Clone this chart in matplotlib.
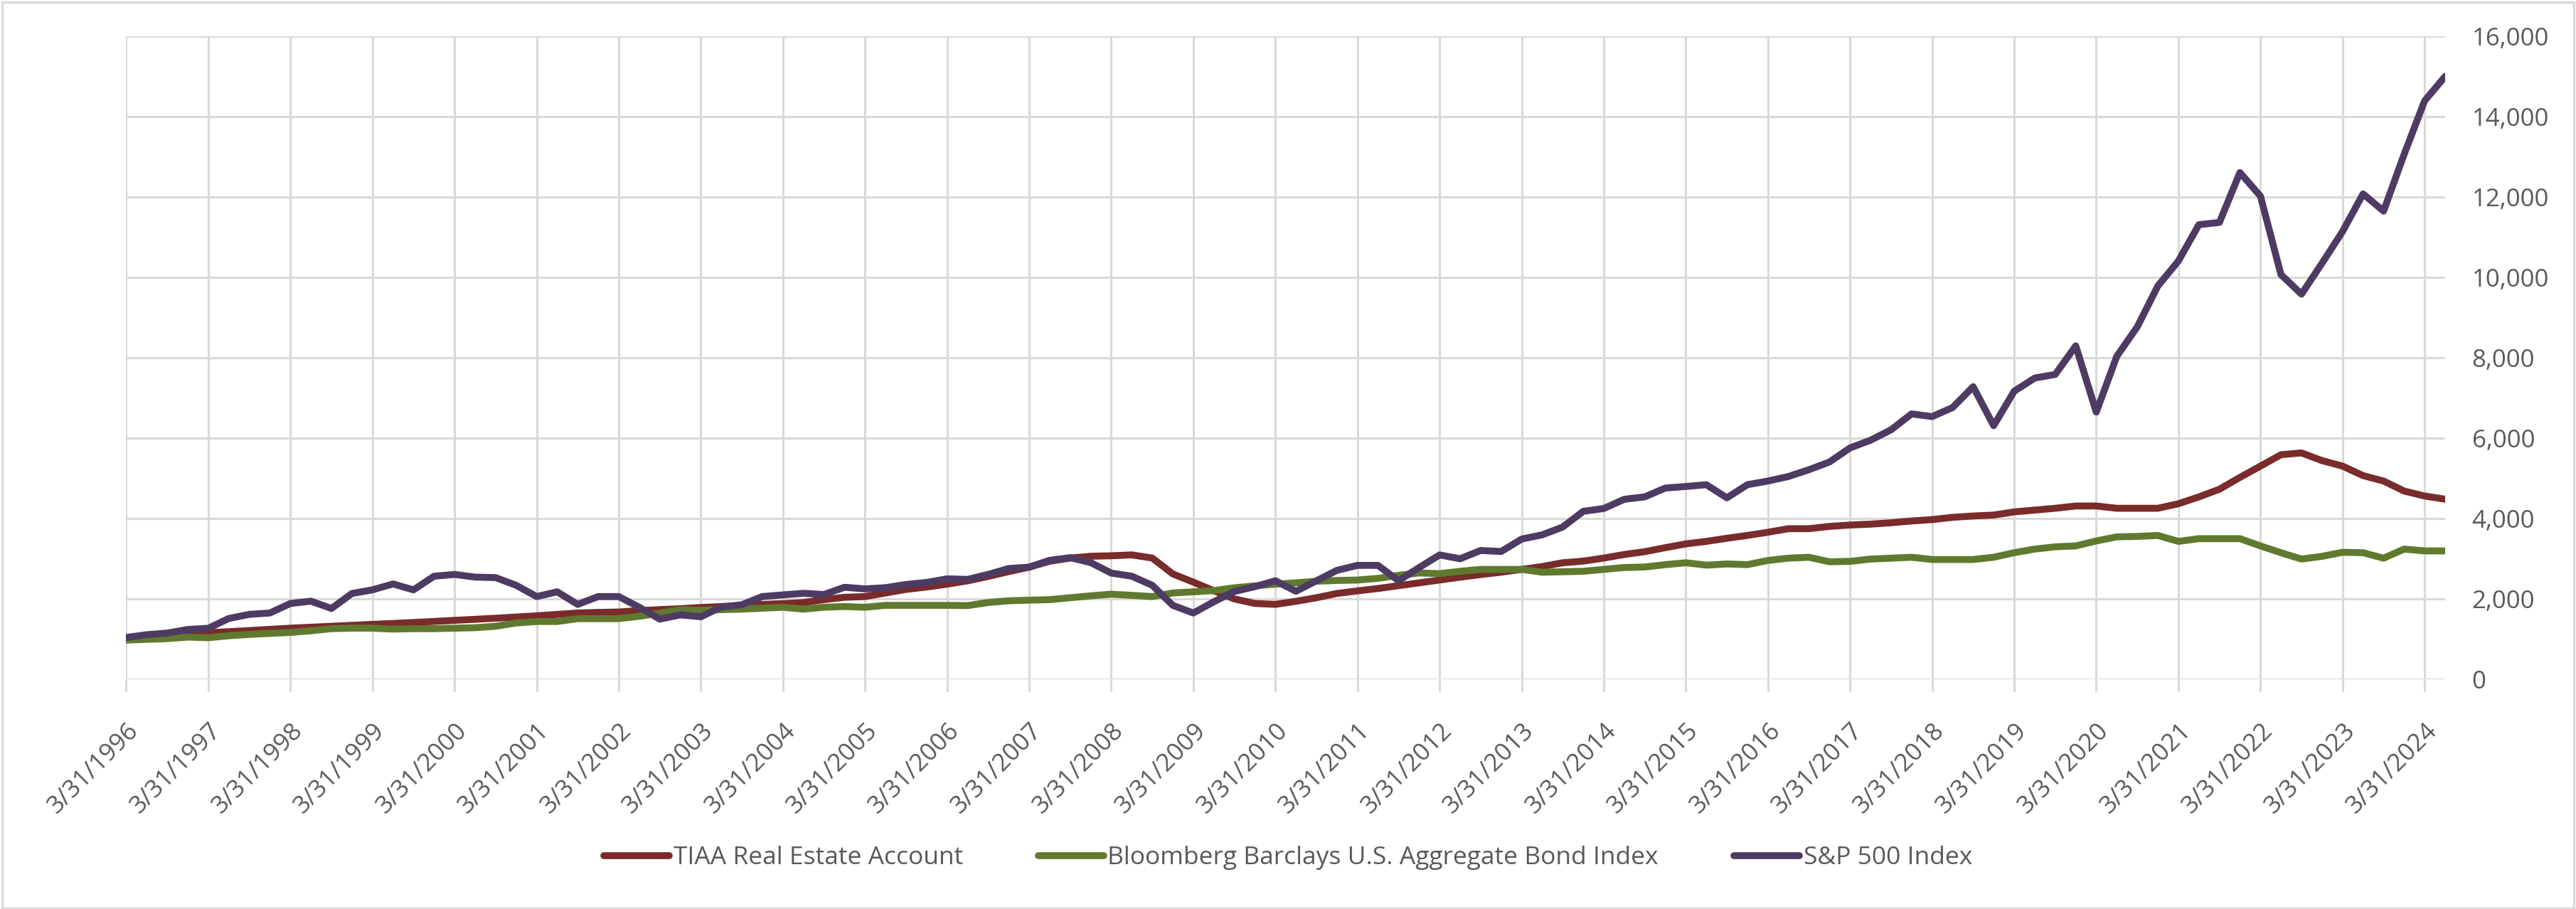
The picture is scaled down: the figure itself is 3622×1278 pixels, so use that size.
import pandas as pd
import matplotlib.pyplot as plt
from matplotlib.patches import Rectangle
from matplotlib.ticker import FuncFormatter

plt.rcParams['font.family'] = ['Open Sans', 'DejaVu Sans']

# quarter-end dates, 3/31/1996 .. 6/30/2024
dates = pd.date_range("1996-03-31", periods=114, freq="QE")

# growth of 1,000
tiaa = [
    1000, 1030, 1060, 1100, 1160, 1185, 1213, 1243, 1272, 1296, 1320, 1344,
    1367, 1390, 1414, 1440, 1467, 1493, 1520, 1550, 1580, 1615, 1650, 1665,
    1675, 1710, 1734, 1757, 1787, 1811, 1834, 1864, 1882, 1911, 1982, 2041,
    2059, 2148, 2237, 2296, 2367, 2450, 2560, 2680, 2791, 2938, 3017, 3062,
    3074, 3096, 3017, 2622, 2418, 2204, 2000, 1887, 1865, 1941, 2030, 2136,
    2200, 2260, 2330, 2400, 2470, 2541, 2606, 2665, 2735, 2806, 2900, 2941,
    3017, 3106, 3176, 3276, 3370, 3432, 3510, 3580, 3660, 3748, 3748, 3805,
    3839, 3861, 3895, 3940, 3974, 4031, 4064, 4087, 4166, 4211, 4256, 4313,
    4313, 4256, 4256, 4256, 4369, 4539, 4730, 5024, 5306, 5589, 5634, 5442,
    5306, 5069, 4934, 4685, 4561, 4482,
]
bond = [
    976, 994, 1012, 1050, 1035, 1083, 1118, 1142, 1166, 1207, 1260, 1272,
    1272, 1249, 1260, 1260, 1272, 1284, 1320, 1402, 1438, 1438, 1509, 1509,
    1509, 1568, 1645, 1734, 1716, 1734, 1746, 1769, 1793, 1746, 1793, 1811,
    1793, 1840, 1840, 1840, 1840, 1834, 1911, 1953, 1970, 1982, 2030, 2077,
    2118, 2089, 2059, 2148, 2177, 2207, 2278, 2325, 2367, 2400, 2440, 2460,
    2470, 2512, 2588, 2647, 2629, 2688, 2735, 2735, 2735, 2665, 2676, 2688,
    2735, 2782, 2794, 2853, 2900, 2841, 2870, 2853, 2958, 3014, 3037, 2924,
    2935, 2992, 3014, 3037, 2981, 2981, 2981, 3037, 3150, 3240, 3297, 3319,
    3443, 3545, 3556, 3579, 3432, 3500, 3500, 3500, 3319, 3150, 2992, 3060,
    3161, 3150, 3014, 3240, 3195, 3195,
]
sp500 = [
    1040, 1110, 1150, 1240, 1270, 1514, 1616, 1650, 1887, 1944, 1763, 2136,
    2226, 2373, 2226, 2565, 2610, 2543, 2531, 2339, 2059, 2177, 1864, 2059,
    2059, 1793, 1497, 1603, 1556, 1800, 1855, 2060, 2100, 2140, 2110, 2290,
    2250, 2280, 2360, 2410, 2500, 2486, 2610, 2757, 2791, 2961, 3028, 2904,
    2644, 2565, 2339, 1840, 1650, 1930, 2185, 2305, 2452, 2190, 2452, 2712,
    2835, 2835, 2453, 2780, 3095, 3000, 3206, 3180, 3490, 3595, 3790, 4180,
    4250, 4480, 4540, 4760, 4798, 4843, 4516, 4843, 4934, 5047, 5216, 5408,
    5758, 5950, 6209, 6605, 6537, 6763, 7282, 6311, 7169, 7497, 7587, 8298,
    6650, 8038, 8772, 9788, 10409, 11313, 11369, 12611, 12024, 10071, 9585, 10353,
    11143, 12080, 11651, 13062, 14395, 15004,
]

labels = ["TIAA Real Estate Account",
          "Bloomberg Barclays U.S. Aggregate Bond Index",
          "S&P 500 Index"]
colors = ["#7A2B2B", "#5F7A2F", "#4D3B63"]

GRID = "#D9D9D9"
TEXT = "#595959"

fig = plt.figure(figsize=(36.22, 12.78), dpi=100)
ax = fig.add_axes([0.049, 0.2527, 0.9002, 0.7073])

x = list(range(len(dates)))
for series, lab, col in zip([tiaa, bond, sp500], labels, colors):
    ax.plot(x, series, color=col, linewidth=7, label=lab,
            solid_joinstyle="round", solid_capstyle="round", zorder=3)

ax.set_xlim(0, len(dates) - 1)
ax.set_ylim(0, 16000)

year_pos = x[::4]
ax.set_xticks(year_pos)
ax.set_xticklabels([f"{d.month}/{d.day}/{d.year}" for d in dates[::4]],
                   rotation=45, ha="right", va="top", rotation_mode="anchor")
ax.set_yticks(range(0, 16001, 2000))
ax.yaxis.set_major_formatter(FuncFormatter(lambda v, p: f"{v:,.0f}"))
ax.yaxis.tick_right()

ax.grid(True, color=GRID, linewidth=2.2, zorder=0)
for s in ax.spines.values():
    s.set_visible(False)
ax.tick_params(axis="x", length=12, width=2.2, color=GRID, pad=28,
               labelsize=25, labelcolor=TEXT)
ax.tick_params(axis="y", length=0, pad=27, labelsize=25, labelcolor=TEXT)

fig.legend(loc="center", bbox_to_anchor=(0.5, 0.056), ncol=3, frameon=False,
           fontsize=25.5, handlelength=2.6, handletextpad=0.15,
           columnspacing=3.0, labelcolor=TEXT)

# chart-area border
fig.patches.append(Rectangle((0.0008, 0.001), 0.9984, 0.997,
                             transform=fig.transFigure, fill=False,
                             edgecolor=GRID, linewidth=2.5))

fig.savefig("out.png", dpi=100, facecolor="white")
plt.close(fig)
